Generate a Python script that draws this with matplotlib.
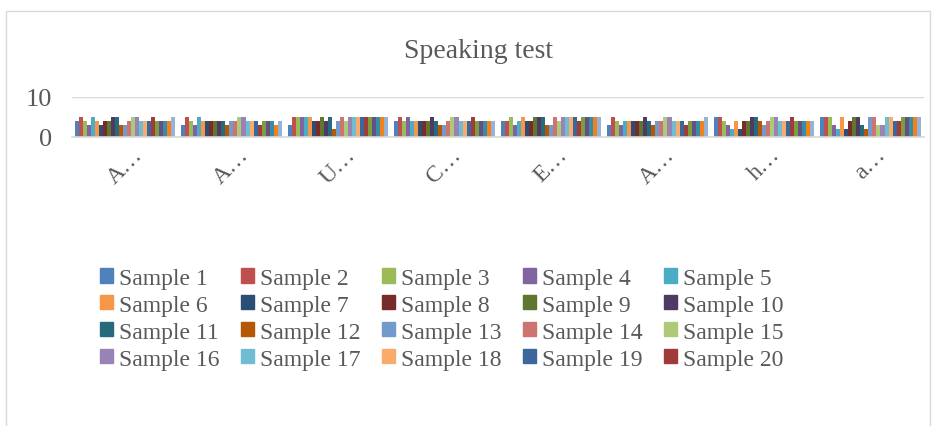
import matplotlib
matplotlib.use("Agg")
import matplotlib.pyplot as plt
import numpy as np
from matplotlib.patches import Rectangle, Patch

# categories (labels are cut off in the original chart)
categories = ["A…", "A…", "U…", "C…", "E…", "A…", "h…", "a…"]

# one list per sample, values for the 8 categories
sample_values = [
    [4, 3, 3, 4, 4, 3, 5, 5],   # Sample 1
    [5, 5, 5, 5, 4, 5, 5, 5],   # Sample 2
    [4, 4, 5, 4, 5, 4, 4, 5],   # Sample 3
    [3, 3, 5, 5, 3, 3, 3, 3],   # Sample 4
    [5, 5, 5, 4, 4, 4, 2, 2],   # Sample 5
    [4, 4, 5, 4, 5, 4, 4, 5],   # Sample 6
    [3, 4, 4, 4, 4, 4, 2, 2],   # Sample 7
    [4, 4, 4, 4, 4, 4, 4, 4],   # Sample 8
    [4, 4, 5, 4, 5, 4, 4, 5],   # Sample 9
    [5, 4, 4, 5, 5, 5, 5, 5],   # Sample 10
    [5, 4, 5, 4, 5, 4, 5, 3],   # Sample 11
    [3, 3, 2, 3, 3, 3, 4, 2],   # Sample 12
    [3, 4, 4, 3, 3, 4, 3, 5],   # Sample 13
    [4, 4, 5, 4, 5, 4, 4, 5],   # Sample 14
    [5, 5, 4, 5, 4, 5, 5, 3],   # Sample 15
    [5, 5, 5, 5, 5, 5, 5, 3],   # Sample 16
    [4, 4, 5, 4, 5, 4, 4, 5],   # Sample 17
    [4, 4, 5, 4, 5, 4, 4, 5],   # Sample 18
    [4, 4, 5, 4, 5, 4, 4, 4],   # Sample 19
    [5, 3, 5, 5, 4, 3, 5, 4],   # Sample 20
    [4, 4, 5, 4, 5, 4, 4, 5],   # Sample 21
    [4, 4, 5, 4, 5, 4, 4, 5],   # Sample 22
    [4, 4, 5, 4, 5, 4, 4, 5],   # Sample 23
    [4, 3, 5, 4, 5, 4, 4, 5],   # Sample 24
    [5, 4, 5, 4, 5, 5, 4, 5],   # Sample 25
]
sample_names = ["Sample %d" % (i + 1) for i in range(len(sample_values))]

colors = ["#4F81BD", "#C0504D", "#9BBB59", "#8064A2", "#4BACC6", "#F79646",
          "#2C4D75", "#772C2A", "#5F7530", "#4D3B62", "#276A7C", "#B65708",
          "#729ACA", "#CD7371", "#AFC97A", "#9983B5", "#6FBDD1", "#F9AB6B",
          "#3A679C", "#9F3B38", "#7E9D40", "#664F82", "#358EA6", "#F2801B",
          "#95B3D7"]

plt.rcParams['font.family'] = ['Liberation Serif', 'DejaVu Serif']
txt = "#595959"

fig = plt.figure(figsize=(9.37, 4.27), dpi=100)
fig.patches.append(Rectangle((6 / 937, -0.01), 924 / 937, 1 - 12 / 427 + 0.01,
                             transform=fig.transFigure, fill=False,
                             edgecolor="#d9d9d9", linewidth=1))

ax = fig.add_axes([71.7 / 937, (427 - 138) / 427, 852 / 937, 40.5 / 427])

n = len(sample_values)
w = 1 / (n + 1.5)
x = np.arange(len(categories))
for j, vals in enumerate(sample_values):
    ax.bar(x + (j - (n - 1) / 2) * w, vals, width=w, color=colors[j],
           linewidth=0, zorder=2)

ax.set_xlim(-0.5, len(categories) - 0.5)
ax.set_ylim(0, 10)
ax.set_yticks([0, 10])
ax.yaxis.grid(True, color="#d9d9d9", linewidth=1, zorder=0)
ax.set_xticks(x)
ax.set_xticklabels(categories, rotation=45, ha="center", fontsize=17, color=txt)
ax.tick_params(axis="x", length=0, pad=5)
ax.tick_params(axis="y", length=0, pad=14, labelsize=19, labelcolor=txt)
for s in ["top", "right", "left"]:
    ax.spines[s].set_visible(False)
ax.spines["bottom"].set_color("#d9d9d9")
ax.spines["bottom"].set_linewidth(1.2)
ax.set_axisbelow(True)

fig.text(0.511, 1 - 52 / 427, "Speaking test", ha="center", va="center",
         fontsize=20, color=txt)

# only the first 20 entries fit in the original legend, filled row by row
nrow, ncol = 4, 5
order = [r * ncol + c for c in range(ncol) for r in range(nrow)]
handles = [Patch(color=colors[i]) for i in order]
labels = [sample_names[i] for i in order]
fig.legend(handles, labels, ncol=ncol, loc="upper left",
           bbox_to_anchor=(88 / 937, 1 - 257 / 427), frameon=False,
           fontsize=17, labelcolor=txt, handlelength=0.55, handleheight=0.55,
           handletextpad=0.25, columnspacing=0.92, labelspacing=0.25,
           borderpad=0)

fig.savefig("out.png", dpi=100)
